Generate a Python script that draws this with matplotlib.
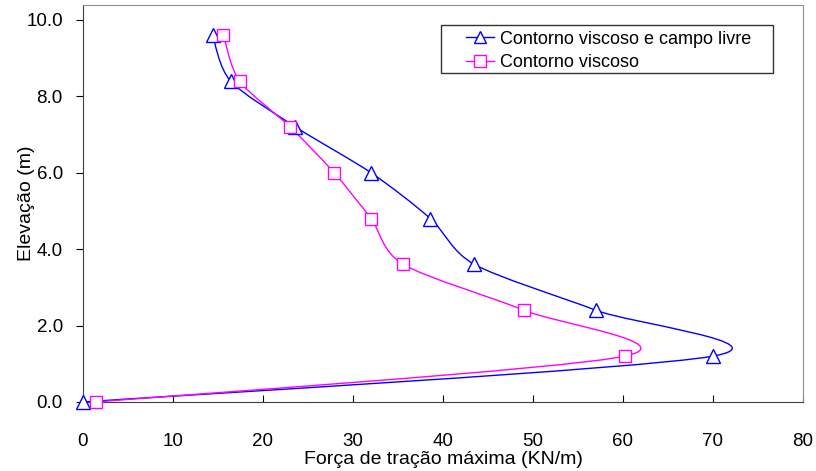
import numpy as np
import matplotlib
matplotlib.use("Agg")
import matplotlib.pyplot as plt
from matplotlib.path import Path
from matplotlib.patches import PathPatch, Rectangle

plt.rcParams['font.family'] = ['Liberation Sans', 'DejaVu Sans']

# data
elev = [0.0, 1.2, 2.4, 3.6, 4.8, 6.0, 7.2, 8.4, 9.6]
force_vcl = [0.0, 70.0, 57.0, 43.5, 38.6, 32.0, 23.6, 16.4, 14.4]
force_vc = [1.4, 60.2, 49.0, 35.6, 32.0, 27.9, 23.0, 17.4, 15.6]
labels = ["Contorno viscoso e campo livre", "Contorno viscoso"]
x_ticks = [0, 10, 20, 30, 40, 50, 60, 70, 80]
y_ticks = [0.0, 2.0, 4.0, 6.0, 8.0, 10.0]


def smooth_path(xs, ys, k=1 / 7.0):
    # Excel-like smoothed line: cubic Bezier segments with Catmull-Rom tangents
    p = np.column_stack([xs, ys]).astype(float)
    n = len(p)
    verts = [p[0]]
    codes = [Path.MOVETO]
    for i in range(n - 1):
        p0 = p[i - 1] if i > 0 else p[i]
        p3 = p[i + 2] if i + 2 < n else p[i + 1]
        c1 = p[i] + (p[i + 1] - p0) * k
        c2 = p[i + 1] - (p3 - p[i]) * k
        verts += [c1, c2, p[i + 1]]
        codes += [Path.CURVE4] * 3
    return Path(verts, codes)


fig = plt.figure(figsize=(8.16, 4.71), dpi=100)
ax = fig.add_axes([0.1017, 0.1465, 0.8823, 0.843])

series = [(force_vcl, '#0000FF', '^', 9.5), (force_vc, '#FF00FF', 's', 9)]
handles = []
for (xs, color, mk, ms), lab in zip(series, labels):
    ax.add_patch(PathPatch(smooth_path(xs, elev), facecolor='none',
                           edgecolor=color, lw=1.0, zorder=2))
    ax.plot(xs, elev, linestyle='none', marker=mk, ms=ms, mfc='white',
            mec=color, mew=1.0, zorder=3, clip_on=False)
    h, = ax.plot([], [], color=color, lw=1.0, marker=mk, ms=ms - 1,
                 mfc='white', mec=color, mew=1.0)
    handles.append(h)

ax.set_xlim(0, 80)
ax.set_ylim(0, 10.39)
ax.set_xticks(x_ticks)
ax.set_yticks(y_ticks)
ax.set_yticklabels([f"{v:.1f}" for v in y_ticks])
ax.tick_params(axis='x', direction='in', length=5, labelsize=13.5, pad=22)
ax.tick_params(axis='y', direction='out', length=5, labelsize=13.5, pad=9.5)

for s in ['top', 'right']:
    ax.spines[s].set_color('#909090')
for s in ['left', 'bottom']:
    ax.spines[s].set_color('#404040')

ax.set_xlabel("Força de tração máxima (KN/m)", fontsize=14)
ax.set_ylabel("Elevação (m)", fontsize=14)
ax.xaxis.set_label_coords(0.5, -0.123)
ax.yaxis.set_label_coords(-0.066, 0.5)

# legend box drawn separately (Excel leaves a wide left margin)
ax.add_patch(Rectangle((0.497, 0.8287), 0.461, 0.1209, transform=ax.transAxes,
                       facecolor='white', edgecolor='#333333', lw=1.0, zorder=4))
leg = ax.legend(handles, labels, loc='upper right', bbox_to_anchor=(0.928, 0.935),
                fontsize=13, frameon=False, handlelength=1.6, handletextpad=0.3,
                borderpad=0.0, labelspacing=0.35, borderaxespad=0)
leg.set_zorder(5)

fig.savefig("out.png", dpi=100)
